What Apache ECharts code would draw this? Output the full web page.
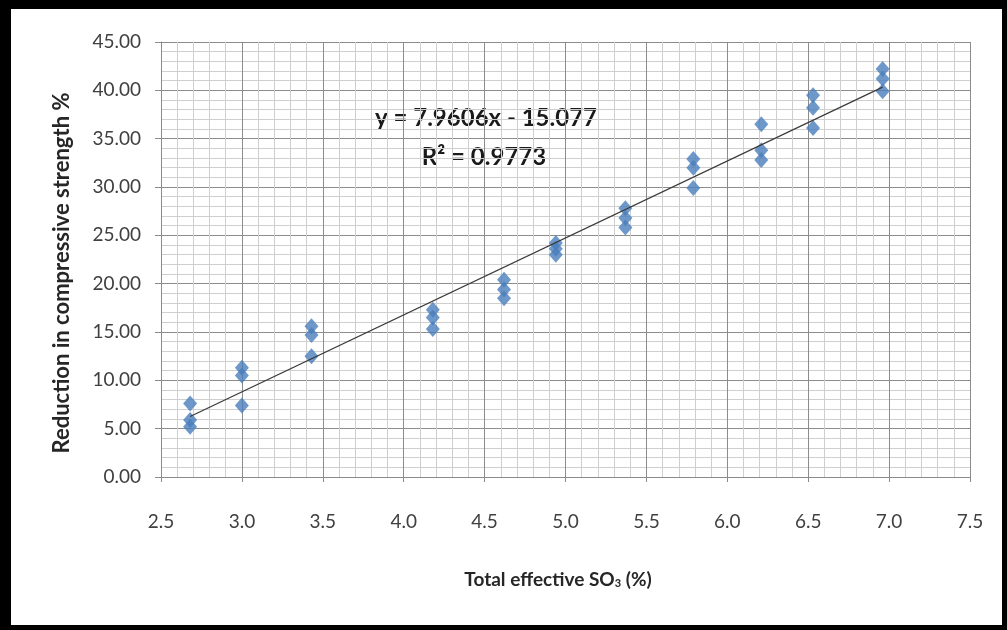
<!DOCTYPE html>
<html>
<head>
<meta charset="utf-8">
<script src="https://cdn.jsdelivr.net/npm/echarts@6/dist/echarts.min.js"></script>
<style>
html,body{margin:0;padding:0;background:#000;}
#frame{position:absolute;left:11px;top:9px;width:991px;height:616px;background:#fff;overflow:hidden;}
#chart{position:absolute;left:-11px;top:-9px;width:1007px;height:630px;}
</style>
</head>
<body>
<div id="frame"><div id="chart"></div></div>
<script>
// Data
const xValues = [2.68, 2.68, 2.68, 3.00, 3.00, 3.00, 3.43, 3.43, 3.43, 4.18, 4.18, 4.18,
                 4.62, 4.62, 4.62, 4.94, 4.94, 4.94, 5.37, 5.37, 5.37, 5.79, 5.79, 5.79,
                 6.21, 6.21, 6.21, 6.53, 6.53, 6.53, 6.96, 6.96, 6.96];
const yValues = [7.6, 5.9, 5.2, 11.3, 10.5, 7.4, 15.6, 14.7, 12.5, 17.3, 16.5, 15.3,
                 20.4, 19.4, 18.5, 24.2, 23.6, 23.0, 27.8, 26.8, 25.8, 32.9, 32.0, 29.9,
                 36.5, 33.8, 32.8, 39.5, 38.2, 36.1, 42.2, 41.2, 39.9];
const trendSlope = 7.9606;
const trendIntercept = -15.077;
const equationText = ["y = 7.9606x - 15.077", "R² = 0.9773"];
const xAxisTitle = "Total effective SO";
const yAxisTitle = "Reduction in compressive strength %";

const points = xValues.map((x, i) => [x, yValues[i]]);
const xMin = Math.min(...xValues), xMax = Math.max(...xValues);
const trend = [[xMin, trendSlope * xMin + trendIntercept], [xMax, trendSlope * xMax + trendIntercept]];

const chart = echarts.init(document.getElementById('chart'), null, {renderer: 'canvas'});
const font = 'Lato, "Open Sans", sans-serif';
chart.setOption({
  backgroundColor: 'transparent',
  animation: false,
  grid: {left: 161, right: 37, top: 42, bottom: 153},
  xAxis: {
    type: 'value', min: 2.5, max: 7.5, interval: 0.5,
    axisLine: {show: true, lineStyle: {color: '#8a8a8a', width: 1}},
    axisTick: {show: true, length: 5, lineStyle: {color: '#8a8a8a'}},
    axisLabel: {color: '#404040', fontSize: 19, fontFamily: font, margin: 35,
      formatter: v => v.toFixed(1)},
    splitLine: {show: true, lineStyle: {color: '#8c8c8c', width: 1}},
    minorTick: {show: false, splitNumber: 5},
    minorSplitLine: {show: true, lineStyle: {color: '#cfcfcf', width: 1}}
  },
  yAxis: {
    type: 'value', min: 0, max: 45, interval: 5,
    axisLine: {show: true, lineStyle: {color: '#8a8a8a', width: 1}},
    axisTick: {show: true, length: 6, lineStyle: {color: '#8a8a8a'}},
    axisLabel: {color: '#404040', fontSize: 19, fontFamily: font, margin: 20,
      formatter: v => v.toFixed(2)},
    splitLine: {show: true, lineStyle: {color: '#8c8c8c', width: 1}},
    minorTick: {show: false, splitNumber: 5},
    minorSplitLine: {show: true, lineStyle: {color: '#cfcfcf', width: 1}}
  },
  series: [
    {
      type: 'scatter', data: points, symbol: 'diamond', symbolSize: [14, 16],
      itemStyle: {color: '#4a7ebb'}, z: 3
    },
    {
      type: 'line', data: trend, symbol: 'none', z: 4,
      lineStyle: {color: '#3a3a3a', width: 1.2}
    }
  ],
  graphic: [
    {type: 'text', x: 486, y: 118, style: {text: equationText[0], font: 'bold 24px ' + font, fill: '#1a1a1a', align: 'center', verticalAlign: 'middle'}},
    {type: 'text', x: 484, y: 157, style: {text: equationText[1], font: 'bold 24px ' + font, fill: '#1a1a1a', align: 'center', verticalAlign: 'middle'}},
    {type: 'text', x: 62, y: 273, rotation: Math.PI / 2,
      style: {text: yAxisTitle, font: 'bold 22px ' + font, fill: '#262626', align: 'center', verticalAlign: 'middle'}},
    {type: 'text', x: 558, y: 580,
      style: {text: '{a|' + xAxisTitle + '}{s|3}{a| (%)}', align: 'center', verticalAlign: 'middle',
        rich: {
          a: {fontSize: 19, fontWeight: 'bold', fill: '#262626', fontFamily: font},
          s: {fontSize: 11, fontWeight: 'bold', fill: '#262626', fontFamily: font, padding: [7, 0, 0, 0]}
        }}}
  ]
});
</script>
</body>
</html>
